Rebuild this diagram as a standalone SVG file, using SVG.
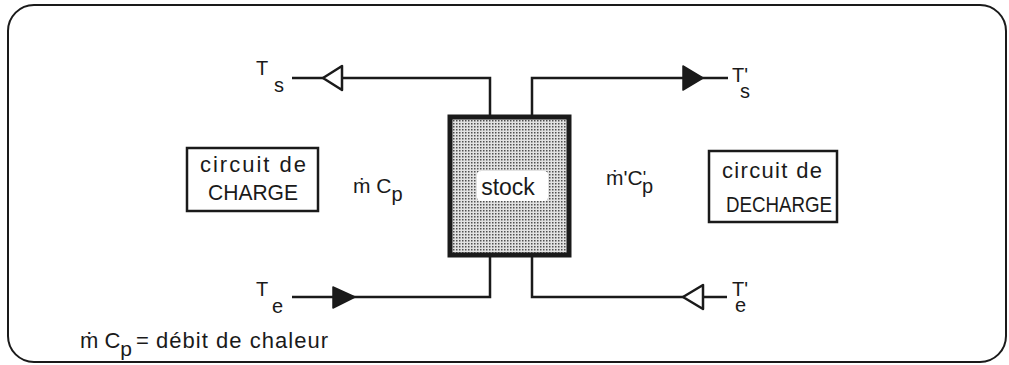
<svg xmlns="http://www.w3.org/2000/svg" width="1009" height="365" viewBox="0 0 1009 365">
<style>
.t{font-family:"Liberation Sans","DejaVu Sans",Arial,sans-serif;fill:#1a1a1a}
.ln{fill:none;stroke:#1a1a1a;stroke-width:2.5}
.box{fill:#fff;stroke:#1a1a1a;stroke-width:2.5}
.open{fill:#fff;stroke:#1a1a1a;stroke-width:2.5;stroke-linejoin:round}
.fill{fill:#1a1a1a;stroke:#1a1a1a;stroke-width:1.5;stroke-linejoin:round}
</style>
<defs>
<pattern id="stip" width="3" height="3" patternUnits="userSpaceOnUse">
<rect width="3" height="3" fill="#e2e2e2"/>
<rect x="0" y="0" width="1.5" height="1.5" fill="#505050"/>
</pattern>
</defs>
<rect x="8" y="5" width="998" height="357" rx="26" ry="26" fill="none" stroke="#1a1a1a" stroke-width="2"/>
<g id="connectors">
<polyline class="ln" points="292,78 490,78 490,115"/>
<polyline class="ln" points="532,115 532,78 728,78"/>
<polyline class="ln" points="292,297 490,297 490,257"/>
<polyline class="ln" points="532,257 532,297 727,297"/>
<polygon class="open" points="323,78 342,66 342,90"/>
<polygon class="fill" points="683,66 703,78 683,90"/>
<polygon class="fill" points="333,287 355,297 333,308"/>
<polygon class="open" points="683,297 703,285 703,309"/>
</g>
<g id="stock">
<rect x="450" y="117" width="119" height="138" fill="url(#stip)" stroke="#1a1a1a" stroke-width="5"/>
<rect x="477" y="171" width="71" height="30" rx="4" fill="#fff"/>
<text class="t" x="508" y="195" font-size="23" text-anchor="middle">stock</text>
</g>
<g id="charge">
<rect class="box" x="187" y="148" width="131" height="63"/>
<text class="t" x="253" y="172" font-size="22" text-anchor="middle" textLength="106">circuit  de</text>
<text class="t" x="253" y="200" font-size="22" text-anchor="middle" textLength="90" lengthAdjust="spacingAndGlyphs">CHARGE</text>
</g>
<g id="decharge">
<rect class="box" x="709" y="151" width="128" height="71"/>
<text class="t" x="772" y="178" font-size="22" text-anchor="middle" textLength="100">circuit  de</text>
<text class="t" x="779" y="212" font-size="22" text-anchor="middle" textLength="106" lengthAdjust="spacingAndGlyphs">DECHARGE</text>
</g>
<g id="mcp-left">
<text class="t" x="353" y="193" font-size="21">ṁ C<tspan font-size="20" dy="8">p</tspan></text>
</g>
<g id="mcp-right">
<text class="t" x="606" y="185" font-size="21">ṁ'C<tspan dy="-1" font-size="18">'</tspan><tspan dx="-4" dy="9" font-size="20">p</tspan></text>
</g>
<g id="label-ts">
<text class="t" x="256" y="75" font-size="20">T<tspan x="274" dy="17">s</tspan></text>
</g>
<g id="label-te">
<text class="t" x="256" y="296" font-size="20">T<tspan x="272" dy="17">e</tspan></text>
</g>
<g id="label-ts2">
<text class="t" x="732" y="82" font-size="20">T'<tspan x="740" dy="16">s</tspan></text>
</g>
<g id="label-te2">
<text class="t" x="732" y="296" font-size="20">T'<tspan x="735" dy="16">e</tspan></text>
</g>
<g id="legend">
<text class="t" x="80" y="348" font-size="22">ṁ C<tspan dy="8" font-size="21">p</tspan><tspan dx="4" dy="-8">=</tspan></text>
<text class="t" x="156" y="348" font-size="22" textLength="172">débit de chaleur</text>
</g>
</svg>
